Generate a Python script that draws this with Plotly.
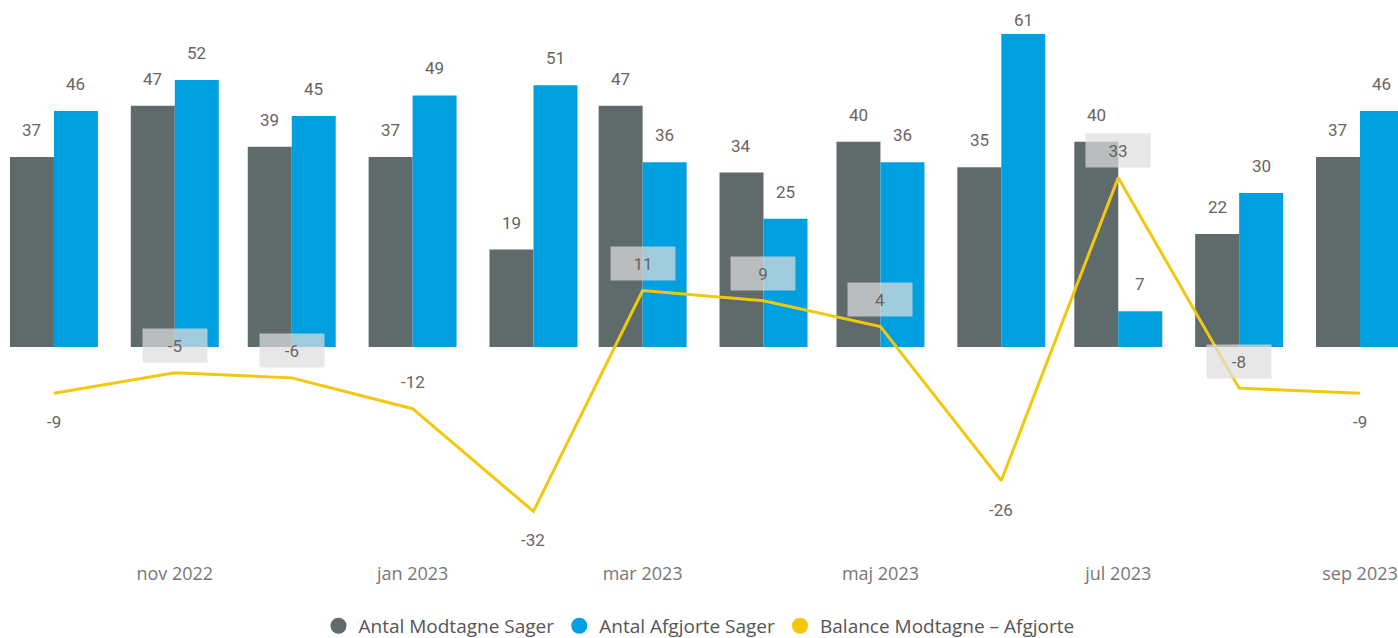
import plotly.graph_objects as go

months = ["2022-10-01", "2022-11-01", "2022-12-01", "2023-01-01", "2023-02-01", "2023-03-01",
          "2023-04-01", "2023-05-01", "2023-06-01", "2023-07-01", "2023-08-01", "2023-09-01"]
modtagne = [37, 47, 39, 37, 19, 47, 34, 40, 35, 40, 22, 37]
afgjorte = [46, 52, 45, 49, 51, 36, 25, 36, 61, 7, 30, 46]
balance = [-9, -5, -6, -12, -32, 11, 9, 4, -26, 33, -8, -9]
tick_vals = ["2022-11-01", "2023-01-01", "2023-03-01", "2023-05-01", "2023-07-01", "2023-09-01"]
tick_text = ["nov 2022", "jan 2023", "mar 2023", "maj 2023", "jul 2023", "sep 2023"]
names = ["Antal Modtagne Sager", "Antal Afgjorte Sager", "Balance Modtagne – Afgjorte"]

GREY = "#5F6A6B"
BLUE = "#009FDF"
YELLOW = "#F2C80F"
LABEL = "#6A645F"

bar_w = 11.28 * 86400000  # ms

fig = go.Figure()
fig.add_trace(go.Bar(x=months, y=modtagne, width=[bar_w] * len(months), offset=-bar_w,
                     marker=dict(color=GREY, line=dict(width=0)), showlegend=False, name=names[0]))
fig.add_trace(go.Bar(x=months, y=afgjorte, width=[bar_w] * len(months), offset=0,
                     marker=dict(color=BLUE, line=dict(width=0)), showlegend=False, name=names[1]))
fig.add_trace(go.Scatter(x=months, y=balance, mode="lines", line=dict(color=YELLOW, width=3),
                         showlegend=False, name=names[2]))

# legend entries with circle markers
for nm, col in zip(names, [GREY, BLUE, YELLOW]):
    fig.add_trace(go.Scatter(x=[None], y=[None], mode="markers", name=nm,
                             marker=dict(color=col, size=18, symbol="circle")))

lab_font = dict(family="Roboto", size=17, color=LABEL)
half = 22  # px

for m, v in zip(months, modtagne):
    fig.add_annotation(x=m, y=v, text=str(v), showarrow=False, xshift=-half,
                       yshift=27 if v < 58 else 14, font=lab_font)
for m, v in zip(months, afgjorte):
    fig.add_annotation(x=m, y=v, text=str(v), showarrow=False, xshift=half,
                       yshift=27 if v < 58 else 14, font=lab_font)

boxed = {1, 2, 5, 6, 7, 9, 10}
below = {0, 4, 8, 11}
for i, (m, v) in enumerate(zip(months, balance)):
    ys = -29 if i in below else 27
    kw = {}
    if i in boxed:
        kw = dict(bgcolor="rgba(222,222,222,0.72)", borderpad=4, width=56, height=25)
    fig.add_annotation(x=m, y=v, text=str(v), showarrow=False, yshift=ys,
                       font=lab_font, **kw)

fig.update_layout(
    width=1398, height=638,
    margin=dict(l=0, r=0, t=0, b=83, autoexpand=False),
    paper_bgcolor="white", plot_bgcolor="white",
    barmode="overlay",
    xaxis=dict(type="date", range=["2022-09-17 04:00", "2023-09-10 18:00"],
               tickvals=tick_vals, ticktext=tick_text, showgrid=False, zeroline=False,
               showline=False, ticks="", tickfont=dict(family="Open Sans", size=18, color="#777777"),
               ticklabelstandoff=6, automargin=False),
    yaxis=dict(range=[-40.5, 67.6], visible=False, showgrid=False, zeroline=False),
    legend=dict(orientation="h", x=0.5, xanchor="center", yref="container", y=0.019,
                yanchor="middle",
                font=dict(family="Open Sans", size=19, color="#555555"), itemwidth=30,
                tracegroupgap=0),
)

fig.write_html("out.html", config={"displayModeBar": False},
               post_script="document.body.style.margin='0';")
